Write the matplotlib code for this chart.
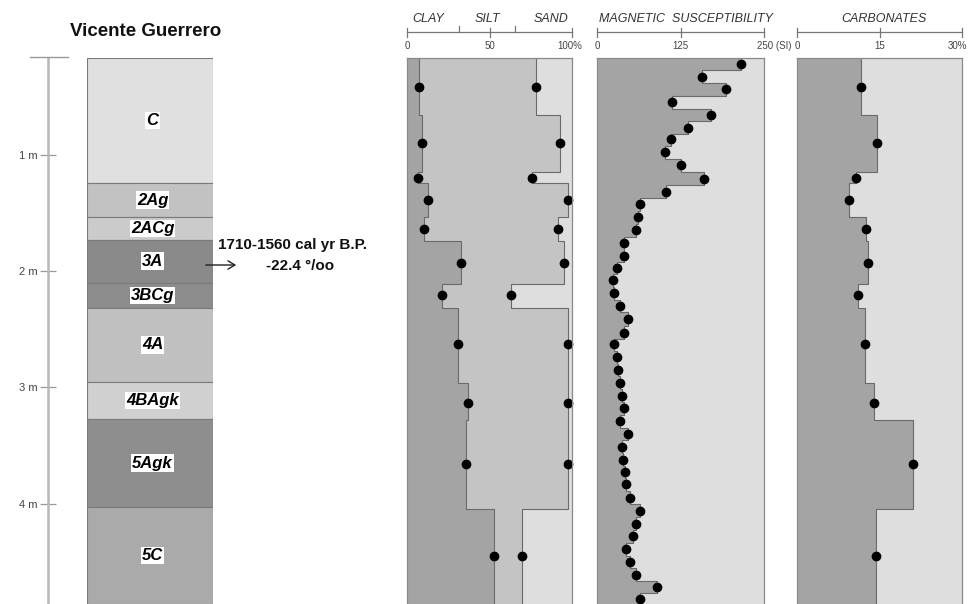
import numpy as np
import matplotlib
matplotlib.use("Agg")
import matplotlib.pyplot as plt
from matplotlib.lines import Line2D

plt.rcParams['font.family'] = ['Liberation Sans', 'DejaVu Sans']

# Soil horizons of the profile (depth in metres)
horizon_names = ['C', '2Ag', '2ACg', '3A', '3BCg', '4A', '4BAgk', '5Agk', '5C']
horizon_tops = [0.17, 1.24, 1.54, 1.73, 2.10, 2.32, 2.95, 3.27, 4.03]
horizon_bottoms = [1.24, 1.54, 1.73, 2.10, 2.32, 2.95, 3.27, 4.03, 4.86]
horizon_colors = ['#e0e0e0', '#c2c2c2', '#cbcbcb', '#8a8a8a', '#8c8c8c',
                  '#c0c0c0', '#d0d0d0', '#8e8e8e', '#aaaaaa']

# Bulk samples: grain size and carbonates
sample_depth = [0.42, 0.90, 1.20, 1.39, 1.64, 1.93, 2.21, 2.63, 3.13, 3.66, 4.45]
sample_bounds = [0.17, 0.66, 1.15, 1.24, 1.54, 1.74, 2.11, 2.32, 2.96, 3.28, 4.04, 4.86]
clay = [7.0, 9.0, 6.5, 13.0, 10.5, 33.0, 21.0, 31.0, 37.0, 35.5, 52.5]
silt = [71.0, 83.5, 69.0, 84.5, 81.0, 62.0, 42.0, 66.5, 60.5, 62.0, 17.0]
sand = [22.0, 7.5, 24.5, 2.5, 8.5, 5.0, 37.0, 2.5, 2.5, 2.5, 30.5]
carbonates = [11.6, 14.5, 10.8, 9.4, 12.5, 12.9, 11.1, 12.4, 14.0, 21.1, 14.3]

# Magnetic susceptibility (SI), sampled every ~10 cm
mag_depth = [0.22, 0.33, 0.44, 0.55, 0.66, 0.77, 0.87, 0.98, 1.09, 1.21,
             1.32, 1.42, 1.54, 1.65, 1.76, 1.87, 1.97, 2.08, 2.19, 2.30,
             2.41, 2.53, 2.63, 2.74, 2.85, 2.96, 3.07, 3.18, 3.29, 3.40,
             3.51, 3.62, 3.73, 3.83, 3.95, 4.06, 4.17, 4.28, 4.39, 4.50,
             4.61, 4.71, 4.82]
mag_sus = [215, 157, 193, 113, 170, 136, 111, 102, 125, 160,
           103, 65, 61, 58, 41, 40, 30, 24, 25, 35,
           46, 41, 26, 30, 31, 34, 38, 40, 35, 46,
           37, 39, 42, 43, 50, 65, 59, 54, 44, 50,
           59, 90, 65]

TOP, BOTTOM = 0.17, 4.86
W, H = 969, 604
PANEL_TOP = 58

DARK, MID, LIGHT = '#a4a4a4', '#c4c4c4', '#dedede'
EDGE = '#6a6a6a'


def steps(bounds, values):
    y = np.repeat(bounds, 2)[1:-1]
    x = np.repeat(values, 2)
    return y, x


def panel_axes(x0, x1):
    return fig.add_axes([x0 / W, 0, (x1 - x0) / W, (H - PANEL_TOP) / H])


def ay(px):
    # figure pixel row -> axes fraction for the panel axes
    return (H - px) / (H - PANEL_TOP)


def style_panel(ax, xmax):
    ax.set_xlim(0, xmax)
    ax.set_ylim(BOTTOM, TOP)
    ax.set_facecolor(LIGHT)
    ax.set_xticks([])
    ax.set_yticks([])
    for s in ax.spines.values():
        s.set_color('#8a8a8a')
        s.set_linewidth(0.9)
    ax.spines['bottom'].set_visible(False)


def top_scale(ax, ticks, labels, last_x, last_ha='left', header=None,
              header_x=0.5):
    tr = ax.get_xaxis_transform()
    ax.plot([ticks[0], ticks[-1]], [ay(32), ay(32)], color='#777', lw=0.9,
            transform=tr, clip_on=False)
    for t in ticks:
        ax.plot([t, t], [ay(28), ay(37)], color='#777', lw=0.9,
                transform=tr, clip_on=False)
    for t, lab in zip(ticks[:-1], labels[:-1]):
        ax.text(t, ay(46), lab, transform=tr, ha='center', va='center',
                fontsize=7, color='#444', clip_on=False)
    # last label is shifted so the unit fits beside it
    ax.text(last_x, ay(46), labels[-1], transform=tr, ha=last_ha,
            va='center', fontsize=7, color='#444', clip_on=False)
    if header:
        ax.text(header_x, ay(19), header, transform=ax.transAxes,
                ha='center', va='center', fontsize=9, style='italic',
                color='#333')


fig = plt.figure(figsize=(W / 100, H / 100), dpi=100)

# --- Stratigraphic column ---
ax_col = panel_axes(87, 213)
tops = np.array(horizon_tops)
bots = np.array(horizon_bottoms)
ax_col.barh(tops, 1, height=bots - tops, left=0, align='edge',
            color=horizon_colors, edgecolor='#7a7a7a', linewidth=0.8)
for name, t, b in zip(horizon_names, tops, bots):
    ax_col.text(0.52, (t + b) / 2, name, ha='center', va='center',
                fontsize=12, weight='bold', style='italic',
                bbox=dict(facecolor='white', edgecolor='none', pad=0.8))
ax_col.set_xlim(0, 1)
ax_col.set_ylim(BOTTOM, TOP)
ax_col.set_xticks([])
for s in ['top', 'right', 'bottom']:
    ax_col.spines[s].set_visible(False)
ax_col.spines['left'].set_position(('outward', 28))
ax_col.spines['left'].set_color('#b8b8b8')
ax_col.spines['left'].set_linewidth(1.8)
ax_col.set_yticks([1, 2, 3, 4])
ax_col.set_yticklabels(['1 m', '2 m', '3 m', '4 m'])
ax_col.tick_params(axis='y', direction='inout', length=11, width=0.9,
                   color='#999', labelsize=8, labelcolor='#444', pad=2)
fig.add_artist(Line2D([30 / W, 68 / W], [1 - 57 / H] * 2, color='#999', lw=1))

fig.text(70 / W, 1 - 32 / H, 'Vicente Guerrero', fontsize=13.5,
         weight='bold', va='center', color='#111')

# Radiocarbon date of horizon 3A
ax_col.annotate('', xy=(239, H - 265), xytext=(203, H - 265),
                xycoords='figure pixels',
                arrowprops=dict(arrowstyle='->,head_length=0.5,head_width=0.3',
                                color='#222', lw=1))
fig.text(218 / W, 1 - 245 / H, '1710-1560 cal yr B.P.', fontsize=11,
         weight='bold', va='center', color='#111')
fig.text(300 / W, 1 - 266 / H, '-22.4 °/oo', fontsize=11,
         weight='bold', va='center', ha='center', color='#111')

# --- Grain size ---
ax_g = panel_axes(407, 572)
style_panel(ax_g, 100)
clay_a = np.array(clay)
fines = clay_a + np.array(silt)
y, xc = steps(sample_bounds, clay_a)
_, xf = steps(sample_bounds, fines)
ax_g.fill_betweenx(y, 0, xc, color=DARK, lw=0)
ax_g.fill_betweenx(y, xc, xf, color=MID, lw=0)
ax_g.plot(xc, y, color=EDGE, lw=0.8)
ax_g.plot(xf, y, color=EDGE, lw=0.8)
ax_g.plot(clay_a, sample_depth, 'o', color='black', ms=6, clip_on=False)
ax_g.plot(fines, sample_depth, 'o', color='black', ms=6, clip_on=False)
top_scale(ax_g, [0, 50, 100], ['0', '50', '100%'], 91)
tr = ax_g.get_xaxis_transform()
for sep in [31.7, 65.6]:
    ax_g.plot([sep, sep], [ay(32), ay(26)], color='#777', lw=0.9,
              transform=tr, clip_on=False)
for lab, xp in zip(['CLAY', 'SILT', 'SAND'], [13, 49, 87]):
    ax_g.text(xp, ay(19), lab, transform=tr, ha='center', va='center',
              fontsize=9, style='italic', color='#333')

# --- Magnetic susceptibility ---
ax_m = panel_axes(597, 764)
style_panel(ax_m, 250)
md = np.array(mag_depth)
mb = np.concatenate([[TOP], (md[1:] + md[:-1]) / 2, [BOTTOM]])
y, xm = steps(mb, mag_sus)
ax_m.fill_betweenx(y, 0, xm, color=DARK, lw=0)
ax_m.plot(xm, y, color=EDGE, lw=0.8)
ax_m.plot(mag_sus, md, 'o', color='black', ms=6, clip_on=False)
top_scale(ax_m, [0, 125, 250], ['0', '125', '250 (SI)'], 239,
          header='MAGNETIC  SUSCEPTIBILITY', header_x=0.53)

# --- Carbonates ---
ax_c = panel_axes(797, 962)
style_panel(ax_c, 30)
y, xcb = steps(sample_bounds, carbonates)
ax_c.fill_betweenx(y, 0, xcb, color=DARK, lw=0)
ax_c.plot(xcb, y, color=EDGE, lw=0.8)
ax_c.plot(carbonates, sample_depth, 'o', color='black', ms=6, clip_on=False)
top_scale(ax_c, [0, 15, 30], ['0', '15', '30%'], 30.9, last_ha='right',
          header='CARBONATES', header_x=0.53)

fig.savefig('out.png', dpi=100)
